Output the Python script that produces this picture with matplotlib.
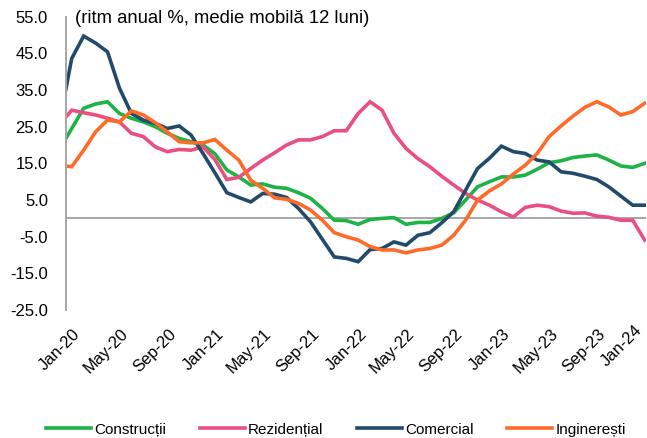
import numpy as np
import matplotlib
matplotlib.use("Agg")
import matplotlib.pyplot as plt
import matplotlib.transforms as mtransforms

plt.rcParams['font.family'] = ['Liberation Sans', 'DejaVu Sans']

# monthly values, Dec-19 .. Jan-24 (first point sits just left of the axis)
months = ['Dec-19'] + [f'{m}-{y}' for y in ('20', '21', '22', '23')
                       for m in ('Jan', 'Feb', 'Mar', 'Apr', 'May', 'Jun',
                                 'Jul', 'Aug', 'Sep', 'Oct', 'Nov', 'Dec')] + ['Jan-24']

constructii = [19.0,
               24.5, 30.0, 31.2, 31.8, 28.6, 27.3, 26.3, 25.0, 23.2, 21.8, 20.9, 20.0,
               17.6, 13.2, 11.3, 9.1, 9.4, 8.5, 8.2, 7.0, 5.5, 2.7, -0.5, -0.6,
               -1.6, -0.3, 0.0, 0.2, -1.6, -1.1, -1.1, 0.0, 1.5, 5.0, 8.6, 10.0,
               11.3, 11.3, 11.8, 13.4, 15.2, 15.7, 16.6, 17.0, 17.3, 15.9, 14.3, 13.9,
               15.0]
rezidential = [25.7,
               29.5, 28.8, 28.2, 27.3, 26.3, 23.2, 22.3, 19.5, 18.2, 18.8, 18.6, 19.5,
               16.0, 10.6, 11.2, 13.6, 15.9, 17.9, 20.0, 21.4, 21.4, 22.3, 23.9, 23.9,
               28.6, 31.8, 29.5, 23.2, 19.1, 16.3, 14.1, 11.5, 9.1, 6.8, 5.0, 3.6,
               1.8, 0.4, 3.0, 3.6, 3.2, 2.0, 1.4, 1.5, 0.6, 0.3, -0.5, -0.5,
               -5.9]
comercial = [26.6,
             43.6, 49.7, 47.8, 45.4, 35.5, 28.6, 26.8, 25.9, 24.5, 25.2, 22.7, 17.7,
             12.4, 7.0, 5.7, 4.5, 6.8, 6.6, 5.7, 2.7, -0.9, -5.7, -10.5, -10.9,
             -11.8, -8.5, -8.2, -6.4, -7.3, -4.6, -3.9, -1.2, 1.8, 7.7, 13.6, 16.4,
             19.7, 18.2, 17.7, 15.9, 15.4, 12.7, 12.3, 11.5, 10.6, 8.6, 6.1, 3.6,
             3.6]
ingineresti = [14.4,
               14.1, 18.6, 23.6, 26.8, 26.3, 29.3, 28.2, 26.1, 23.6, 20.9, 20.6, 20.6,
               21.5, 18.6, 15.9, 10.4, 8.2, 5.6, 5.2, 4.1, 2.3, -0.5, -3.9, -5.0,
               -5.9, -7.7, -8.6, -8.6, -9.4, -8.6, -8.2, -7.3, -4.6, -0.5, 5.0, 7.5,
               9.4, 12.1, 14.5, 17.7, 22.3, 25.2, 27.9, 30.3, 31.8, 30.4, 28.2, 29.1,
               31.4]

series = [('Construcții', constructii, '#1db345'),
          ('Rezidențial', rezidential, '#ea4f7f'),
          ('Comercial', comercial, '#224a6b'),
          ('Inginerești', ingineresti, '#ff6a29')]

x = np.arange(len(months)) - 1  # Jan-20 -> 0

fig = plt.figure(figsize=(6.47, 4.38), dpi=100)
ax = fig.add_axes([0.102, 0.292, 0.896, 0.670])

for name, vals, col in series:
    ax.plot(x, vals, color=col, lw=2.6, label=name, solid_joinstyle='miter')

ax.axhline(0, color='#a6a6a6', lw=1.4, zorder=0)

ax.set_xlim(-0.48, 48.09)
ax.set_ylim(-25, 55)
ax.set_yticks(np.arange(-25, 56, 10))
ax.set_yticklabels([f'{v:.1f}' for v in np.arange(-25, 56, 10)])

tick_idx = list(range(0, 49, 4))
ax.set_xticks(tick_idx)
ax.set_xticklabels([months[i + 1] for i in tick_idx], rotation=45,
                   ha='right', rotation_mode='anchor')

ax.tick_params(axis='y', length=0, pad=13, labelsize=12)
ax.tick_params(axis='x', length=0, pad=10, labelsize=12)

# tick_params resets label transforms, so nudge the labels afterwards
xlabels = ax.get_xticklabels()
for k, lab in enumerate(xlabels):
    if k == len(xlabels) - 1:
        # last label pulled back inside the figure, like the original
        off = mtransforms.ScaledTranslation(-10 / 100, 2 / 100, fig.dpi_scale_trans)
    else:
        off = mtransforms.ScaledTranslation(1 / 100, -2 / 100, fig.dpi_scale_trans)
    lab.set_transform(lab.get_transform() + off)

for s in ('top', 'right', 'bottom'):
    ax.spines[s].set_visible(False)
ax.spines['left'].set_color('#a6a6a6')
ax.spines['left'].set_linewidth(1.4)

ax.text(0.015, 0.995, '(ritm anual %, medie mobilă 12 luni)',
        transform=ax.transAxes, fontsize=13.3, va='center', ha='left')

fig.legend(loc='lower center', bbox_to_anchor=(0.519, -0.028), ncol=4,
           frameon=False, fontsize=11, handlelength=2.95, handletextpad=0.2,
           columnspacing=2.2)

fig.savefig('out.png', dpi=100)
